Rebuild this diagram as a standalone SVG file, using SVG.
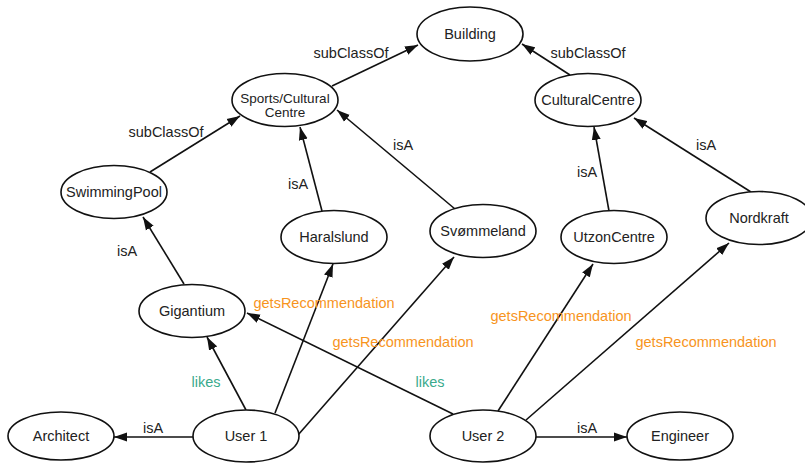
<svg xmlns="http://www.w3.org/2000/svg" width="805" height="464" viewBox="0 0 805 464">
<defs>
<marker id="arr" markerUnits="userSpaceOnUse" markerWidth="14" markerHeight="10" refX="13" refY="5" orient="auto">
<path d="M0,0.5 L13,5 L0,9.5 Z" fill="#111"/>
</marker>
<style>
.n ellipse{fill:#fff;stroke:#111;stroke-width:1.6}
.n text{font-family:"Liberation Sans",Arial,sans-serif;font-size:14.5px;fill:#222;text-anchor:middle}
.n text.s{font-size:13.5px}
.e line{stroke:#111;stroke-width:1.6;marker-end:url(#arr)}
.l{font-family:"Liberation Sans",Arial,sans-serif;font-size:14.5px;text-anchor:middle}
.k{fill:#222}
.o{fill:#f7941d}
.t{fill:#3aaa8c}
</style>
</defs>
<rect width="805" height="464" fill="#fff"/>
<g id="edges" class="e">
<line x1="332" y1="86" x2="418" y2="45"/>
<line x1="570" y1="75" x2="522" y2="44"/>
<line x1="150" y1="172" x2="240" y2="116"/>
<line x1="322" y1="211" x2="300" y2="127"/>
<line x1="455" y1="209" x2="337" y2="110"/>
<line x1="609" y1="211" x2="594" y2="127"/>
<line x1="751" y1="192" x2="634" y2="118"/>
<line x1="184" y1="284" x2="143" y2="217"/>
<line x1="246" y1="410" x2="207" y2="337"/>
<line x1="275" y1="413" x2="333" y2="264"/>
<line x1="298" y1="435" x2="454" y2="257"/>
<line x1="453" y1="414" x2="247" y2="313"/>
<line x1="498" y1="411" x2="593" y2="264"/>
<line x1="526" y1="420" x2="729" y2="243"/>
<line x1="193" y1="437" x2="114" y2="437"/>
<line x1="536" y1="437" x2="627" y2="437"/>
</g>
<g id="labels">
<text class="l k" x="351" y="58">subClassOf</text>
<text class="l k" x="588" y="58">subClassOf</text>
<text class="l k" x="166" y="137">subClassOf</text>
<text class="l k" x="298" y="189">isA</text>
<text class="l k" x="403" y="150">isA</text>
<text class="l k" x="587" y="177">isA</text>
<text class="l k" x="706" y="150">isA</text>
<text class="l k" x="127" y="256">isA</text>
<text class="l t" x="206" y="387">likes</text>
<text class="l o" x="324" y="308">getsRecommendation</text>
<text class="l o" x="403" y="347">getsRecommendation</text>
<text class="l t" x="430" y="387">likes</text>
<text class="l o" x="561" y="321">getsRecommendation</text>
<text class="l o" x="706" y="347">getsRecommendation</text>
<text class="l k" x="153" y="433">isA</text>
<text class="l k" x="587" y="433">isA</text>
</g>
<g id="Building" class="n"><ellipse cx="470" cy="34" rx="53" ry="27"/><text x="470" y="39">Building</text></g>
<g id="SportsCultural" class="n"><ellipse cx="285" cy="100" rx="53" ry="26.5"/><text class="s" x="285" y="103">Sports/Cultural</text><text class="s" x="285" y="117">Centre</text></g>
<g id="CulturalCentre" class="n"><ellipse cx="588" cy="100" rx="53" ry="26.5"/><text x="588" y="105">CulturalCentre</text></g>
<g id="SwimmingPool" class="n"><ellipse cx="114" cy="192" rx="53" ry="26.5"/><text x="114" y="197">SwimmingPool</text></g>
<g id="Haralslund" class="n"><ellipse cx="334" cy="237" rx="53" ry="26.5"/><text x="334" y="242">Haralslund</text></g>
<g id="Svommeland" class="n"><ellipse cx="483" cy="231" rx="53" ry="26.5"/><text x="483" y="236">Svømmeland</text></g>
<g id="UtzonCentre" class="n"><ellipse cx="614" cy="237" rx="53" ry="26.5"/><text x="614" y="242">UtzonCentre</text></g>
<g id="Nordkraft" class="n"><ellipse cx="759" cy="218" rx="53" ry="26.5"/><text x="759" y="223">Nordkraft</text></g>
<g id="Gigantium" class="n"><ellipse cx="192" cy="311" rx="53" ry="26.5"/><text x="192" y="316">Gigantium</text></g>
<g id="Architect" class="n"><ellipse cx="61" cy="436" rx="53" ry="24"/><text x="61" y="441">Architect</text></g>
<g id="User1" class="n"><ellipse cx="246" cy="436" rx="53" ry="26"/><text x="246" y="441">User 1</text></g>
<g id="User2" class="n"><ellipse cx="483" cy="436" rx="53" ry="26"/><text x="483" y="441">User 2</text></g>
<g id="Engineer" class="n"><ellipse cx="680" cy="436" rx="53" ry="24"/><text x="680" y="441">Engineer</text></g>
</svg>
